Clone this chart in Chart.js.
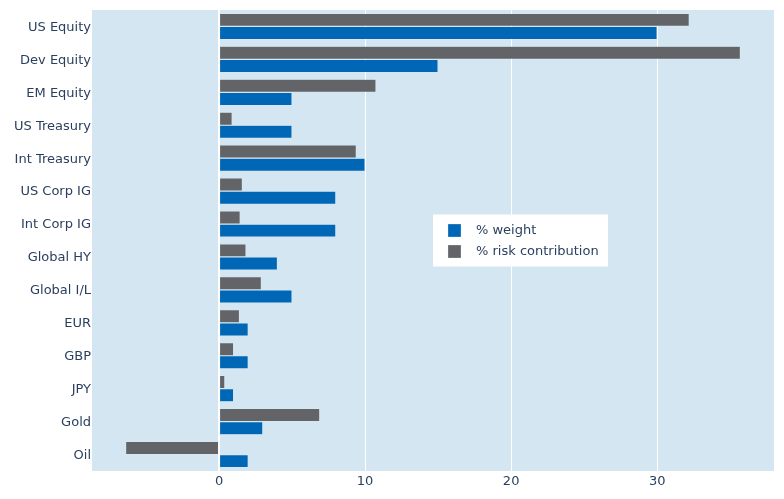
<!DOCTYPE html>
<html>
<head>
<meta charset="utf-8">
<script src="https://cdn.jsdelivr.net/npm/chart.js@4/dist/chart.umd.min.js"></script>
<style>
  html, body { margin: 0; padding: 0; background: #ffffff; }
  #wrap { width: 784px; height: 499px; position: relative; }
</style>
</head>
<body>
<div id="wrap"><canvas id="c" width="784" height="499"></canvas></div>
<script>
const categories = ["US Equity", "Dev Equity", "EM Equity", "US Treasury", "Int Treasury", "US Corp IG", "Int Corp IG", "Global HY", "Global I/L", "EUR", "GBP", "JPY", "Gold", "Oil"];
const weightValues = [30, 15, 5, 5, 10, 8, 8, 4, 5, 2, 2, 1, 3, 2];
const riskValues = [32.2, 35.7, 10.75, 0.9, 9.4, 1.6, 1.45, 1.85, 2.9, 1.4, 1.0, 0.4, 6.9, -6.4];
const xTickValues = [0, 10, 20, 30];
const xRange = [-8.7, 38.0];

const BLUE = '#0067b6';
const GRAY = '#636467';
const BG = '#d4e6f1';
const TXT = '#2a3f5f';
const FONT = '"DejaVu Sans", Verdana, sans-serif';
const FS = 13;

const bgPlugin = {
  id: 'plotBg',
  beforeDraw(chart) {
    const {ctx, chartArea: a} = chart;
    ctx.save();
    ctx.fillStyle = BG;
    ctx.fillRect(a.left, a.top, a.right - a.left, a.bottom - a.top);
    ctx.restore();
  }
};

const legendPlugin = {
  id: 'insideLegend',
  afterDraw(chart) {
    const {ctx, chartArea: a} = chart;
    const items = [chart.data.datasets[1], chart.data.datasets[0]];
    const w = 175, h = 52;
    const x = a.left + 0.5 * (a.right - a.left);
    const y = a.top + 0.5 * (a.bottom - a.top) - h / 2;
    ctx.save();
    ctx.fillStyle = '#ffffff';
    ctx.fillRect(x, y, w, h);
    ctx.font = FS + 'px ' + FONT;
    ctx.textBaseline = 'middle';
    ctx.textAlign = 'left';
    items.forEach((ds, i) => {
      const cy = y + 15.5 + i * 21;
      ctx.fillStyle = ds.backgroundColor;
      ctx.fillRect(x + 15, cy - 6, 13, 13);
      ctx.strokeStyle = 'rgba(229,236,246,0.6)';
      ctx.lineWidth = 0.5;
      ctx.strokeRect(x + 15, cy - 6, 13, 13);
      ctx.fillStyle = TXT;
      ctx.fillText(ds.label, x + 43, cy + 1);
    });
    ctx.restore();
  }
};

new Chart(document.getElementById('c'), {
  type: 'bar',
  data: {
    labels: categories,
    datasets: [
      { label: '% risk contribution', data: riskValues, backgroundColor: GRAY, borderColor: 'rgba(229,236,246,0.55)', borderWidth: 0.6, categoryPercentage: 0.8, barPercentage: 1.0 },
      { label: '% weight', data: weightValues, backgroundColor: BLUE, borderColor: 'rgba(229,236,246,0.55)', borderWidth: 0.6, categoryPercentage: 0.8, barPercentage: 1.0 }
    ]
  },
  options: {
    indexAxis: 'y',
    responsive: false,
    animation: false,
    devicePixelRatio: 1,
    layout: { padding: { top: 10, right: 10, left: 0, bottom: 0 } },
    plugins: {
      legend: { display: false },
      tooltip: { enabled: false }
    },
    scales: {
      x: {
        type: 'linear',
        min: xRange[0],
        max: xRange[1],
        afterBuildTicks(scale) { scale.ticks = xTickValues.map(v => ({ value: v })); },
        afterFit(scale) { scale.height = 28; },
        grid: {
          color: '#ffffff',
          lineWidth: (c) => (c.tick && c.tick.value === 0 ? 2 : 1),
          drawTicks: false
        },
        border: { display: false },
        ticks: { color: TXT, font: { family: FONT, size: FS }, padding: 3, maxRotation: 0 }
      },
      y: {
        type: 'category',
        afterFit(scale) { scale.width = 92; },
        grid: { display: false, drawTicks: false },
        border: { display: false },
        ticks: { color: TXT, font: { family: FONT, size: FS }, padding: 1, labelOffset: 1, autoSkip: false }
      }
    }
  },
  plugins: [bgPlugin, legendPlugin]
});
</script>
</body>
</html>
